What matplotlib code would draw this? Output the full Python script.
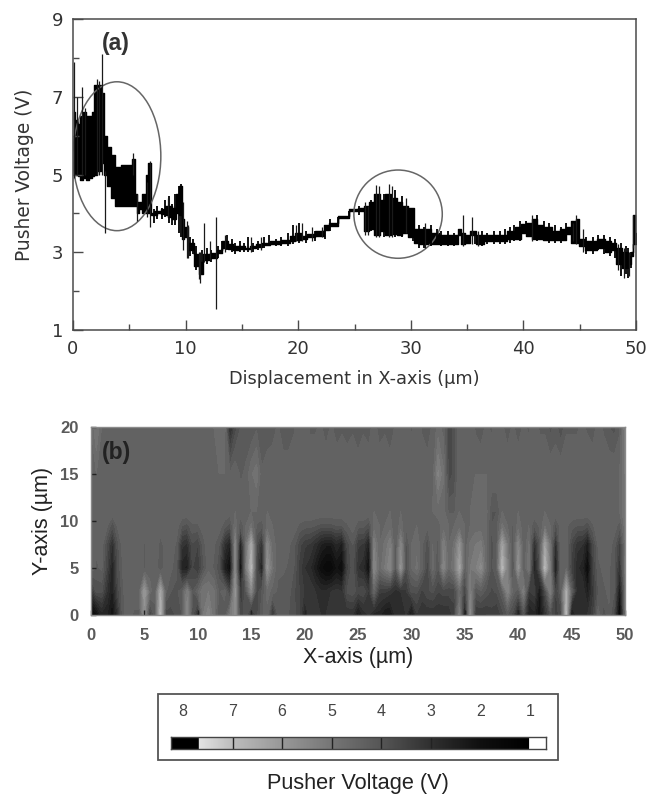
import matplotlib
matplotlib.use('Agg')
import matplotlib.pyplot as plt
import numpy as np
from matplotlib.colors import LinearSegmentedColormap
from matplotlib.patches import Ellipse, Rectangle

W, H = 648, 794

# panel (a): noisy trace, read as a band (low/high) plus single spikes
trace_x = [0.05, 0.3, 0.5, 0.7, 1.0, 1.3, 1.5, 1.8, 2.0, 2.3, 2.6, 2.9, 3.2, 3.5, 4.0, 4.5, 5.0, 5.4, 5.55,
           5.8, 6.0, 6.3, 6.6, 6.8, 7.0, 7.3, 7.7, 8.0, 8.3, 8.6, 9.0, 9.3, 9.6, 9.8, 10.0, 10.5, 11.0, 11.3,
           11.8, 12.5, 13.0, 13.5, 14.0, 14.5, 15.0, 15.5, 16.0, 16.5, 17.0, 18.0, 19.0, 19.5, 20.0, 20.5, 21.0,
           22.0, 22.5, 23.0, 24.0, 25.0, 25.7, 26.0, 26.5, 27.0, 27.5, 28.0, 28.5, 29.0, 29.5, 30.0, 30.5, 31.0,
           31.5, 32.0, 33.0, 34.0, 34.3, 34.7, 35.0, 35.5, 36.0, 37.0, 38.0, 39.0, 39.5, 40.0, 40.5, 41.0, 41.5,
           42.0, 43.0, 43.5, 44.0, 44.5, 44.8, 45.0, 46.0, 47.0, 47.5, 48.0, 48.5, 49.0, 49.5, 49.7, 49.8, 50.0]
trace_low = [5.0, 5.0, 4.95, 4.85, 4.9, 4.85, 4.9, 4.95, 5.0, 5.1, 5.3, 5.0, 4.7, 4.4, 4.2, 4.2, 4.2, 4.2, 4.2,
             4.0, 4.1, 4.0, 4.0, 4.0, 3.95, 3.95, 4.0, 3.98, 3.95, 3.9, 3.85, 4.0, 3.95, 3.35, 3.4, 3.05, 2.65, 2.45,
             2.8, 2.85, 2.98, 3.12, 3.08, 3.05, 3.08, 3.08, 3.12, 3.14, 3.18, 3.22, 3.25, 3.28, 3.32, 3.33, 3.38,
             3.42, 3.58, 3.68, 3.88, 4.05, 4.05, 3.55, 3.6, 3.45, 3.55, 3.45, 3.48, 3.45, 3.5, 3.4, 3.25, 3.2,
             3.22, 3.22, 3.2, 3.2, 3.45, 3.2, 3.25, 3.45, 3.22, 3.28, 3.28, 3.33, 3.35, 3.5, 3.42, 3.35, 3.35,
             3.32, 3.32, 3.32, 3.48, 3.25, 3.25, 3.15, 3.05, 3.1, 3.0, 3.05, 2.7, 2.6, 2.7, 2.9, 3.2, 3.2]
trace_high = [6.6, 6.4, 6.3, 6.5, 6.6, 6.5, 6.5, 6.6, 7.3, 7.3, 7.1, 6.0, 5.7, 5.5, 5.2, 5.25, 5.25, 5.4, 4.5,
              4.3, 4.3, 4.5, 5.0, 5.3, 4.02, 4.05, 4.05, 4.1, 4.2, 4.2, 4.15, 4.5, 4.7, 3.85, 3.65, 3.25, 2.95, 2.75,
              2.95, 2.98, 3.05, 3.3, 3.22, 3.15, 3.15, 3.12, 3.15, 3.2, 3.25, 3.28, 3.32, 3.42, 3.5, 3.42, 3.46,
              3.55, 3.7, 3.75, 3.92, 4.1, 4.15, 4.2, 4.3, 4.5, 4.35, 4.5, 4.4, 4.3, 4.2, 4.15, 3.6, 3.6,
              3.6, 3.5, 3.45, 3.45, 3.6, 3.5, 3.45, 3.55, 3.45, 3.45, 3.45, 3.55, 3.65, 3.72, 3.75, 3.85, 3.7,
              3.65, 3.55, 3.6, 3.65, 3.8, 3.85, 3.35, 3.3, 3.35, 3.3, 3.25, 3.1, 3.0, 2.9, 3.0, 3.95, 3.5]
spike_x = [0.1, 0.35, 0.8, 1.1, 2.1, 2.3, 2.55, 2.85, 5.35, 5.65, 6.6, 6.85, 8.4, 9.75, 10.1, 10.25, 11.15,
           11.3, 11.6, 12.2, 12.7, 13.5, 15.8, 16.7, 19.8, 20.3, 21.2, 22.1, 25.9, 26.2, 26.9, 27.2, 28.1,
           28.3, 29.6, 31.3, 34.6, 35.4, 36.0, 40.8, 44.4, 44.7, 45.3, 48.4, 48.9, 49.4, 49.75]
spike_low = [4.9, 5.0, 5.0, 5.0, 5.0, 5.0, 5.0, 3.5, 5.0, 3.8, 3.9, 3.65, 3.9, 3.05, 2.85, 2.85, 2.3,
             2.2, 2.75, 2.8, 1.55, 3.0, 3.0, 3.05, 3.3, 3.3, 3.3, 3.4, 3.45, 3.45, 3.4, 3.4, 3.4,
             3.4, 3.5, 3.1, 3.15, 3.2, 3.15, 3.3, 3.3, 3.2, 3.0, 2.55, 2.35, 2.4, 3.1]
spike_high = [7.9, 7.0, 7.25, 6.7, 7.45, 7.4, 8.1, 5.1, 5.55, 4.5, 4.8, 5.35, 4.4, 4.3, 3.8, 3.7, 3.0,
              3.0, 3.75, 3.3, 3.9, 3.45, 3.4, 3.4, 3.7, 3.75, 3.65, 3.65, 4.3, 4.2, 4.72, 4.7, 4.75,
              4.7, 4.4, 3.75, 3.95, 3.9, 3.55, 3.95, 3.75, 3.95, 3.6, 3.2, 3.1, 3.0, 3.95]
# smaller noise strokes along the trace
fuzz_x = [7.2, 7.5, 7.9, 8.2, 8.5, 8.8, 9.1, 9.45, 9.55, 10.4, 10.7, 10.9, 11.45, 11.9, 12.3, 12.9, 13.2, 13.7,
          14.1, 14.4, 14.8, 15.2, 15.5, 16.0, 16.4, 17.0, 17.4, 18.0, 18.5, 19.1, 19.5, 20.1, 20.7, 21.5, 22.4,
          22.8, 23.5, 24.5, 25.4, 26.5, 27.6, 28.6, 29.2, 30.2, 30.7, 31.2, 31.8, 32.3, 32.7, 33.3, 33.8, 35.7,
          36.3, 36.8, 37.4, 37.9, 38.4, 38.8, 39.2, 39.7, 40.2, 41.2, 41.8, 42.3, 42.8, 43.3, 43.8, 45.6, 46.2,
          46.6, 47.2, 47.7, 48.1, 48.7, 49.1, 49.25, 49.6]
fuzz_low = [3.75, 3.85, 3.85, 3.9, 3.75, 3.7, 3.7, 3.5, 3.4, 2.9, 2.95, 2.55, 2.5, 2.7, 2.75, 2.85, 3.0, 3.05,
            3.0, 2.95, 3.0, 3.0, 3.0, 3.0, 3.05, 3.1, 3.15, 3.15, 3.15, 3.15, 3.2, 3.25, 3.25, 3.3, 3.35,
            3.55, 3.65, 3.85, 3.95, 3.55, 3.4, 3.4, 3.4, 3.3, 3.1, 3.1, 3.15, 3.2, 3.15, 3.15, 3.15, 3.2,
            3.15, 3.2, 3.2, 3.2, 3.2, 3.25, 3.3, 3.3, 3.5, 3.3, 3.3, 3.25, 3.25, 3.25, 3.4, 2.95, 2.95,
            3.05, 2.95, 2.9, 2.85, 2.4, 2.45, 2.35, 2.6]
fuzz_high = [4.1, 4.2, 4.15, 4.35, 4.45, 4.25, 4.5, 4.7, 4.75, 3.4, 3.35, 3.15, 3.05, 3.1, 3.05, 3.15, 3.3, 3.45,
             3.35, 3.25, 3.3, 3.25, 3.4, 3.25, 3.3, 3.4, 3.45, 3.35, 3.4, 3.5, 3.7, 3.75, 3.55, 3.55, 3.65,
             3.85, 3.9, 4.05, 4.2, 4.35, 4.5, 4.6, 4.45, 4.1, 3.7, 3.65, 3.7, 3.6, 3.55, 3.55, 3.5, 3.55,
             3.55, 3.5, 3.55, 3.55, 3.6, 3.65, 3.7, 3.8, 3.8, 3.95, 3.8, 3.75, 3.7, 3.65, 3.75, 3.4, 3.4,
             3.45, 3.45, 3.4, 3.35, 3.25, 3.15, 3.1, 3.0]
ellipse_x = [3.9, 28.87]
ellipse_y = [5.47, 3.98]
ellipse_w = [7.8, 7.85]
ellipse_h = [3.83, 2.27]

map_x = np.arange(0, 50.5, 0.5)
map_y = [0, 2.5, 5, 7.5, 9.5, 11, 15, 20]
row_0 = [1.5, 1.8, 2.6, 2.5, 2.0, 3.0, 4.2, 4.4, 4.2, 4.2,
         5.6, 3.4, 4.2, 6.8, 3.6, 3.6, 3.8, 4.0, 5.4, 3.8,
         3.0, 5.0, 5.4, 4.8, 4.0, 4.0, 5.0, 5.6, 3.4, 4.0,
         2.8, 3.6, 4.2, 4.4, 3.0, 4.0, 4.0, 4.0, 3.8, 3.6,
         2.6, 3.2, 3.2, 3.0, 3.0, 3.2, 3.0, 3.2, 3.0, 3.0,
         2.2, 2.8, 3.0, 2.6, 2.6, 2.2, 2.2, 2.8, 3.0, 3.0,
         2.0, 3.2, 3.0, 3.0, 3.0, 3.0, 3.0, 3.0, 3.4, 5.2,
         2.2, 5.6, 3.2, 3.2, 3.2, 3.4, 3.2, 3.6, 4.0, 3.6,
         2.4, 3.8, 2.4, 2.6, 2.0, 3.0, 3.8, 3.4, 3.6, 6.8,
         2.0, 3.0, 3.0, 3.0, 3.4, 4.4, 3.8, 4.2, 3.6, 1.4, 4.6]
row_2 = [3.0, 3.8, 3.8, 3.0, 2.4, 3.6, 4.2, 4.5, 4.4, 4.4,
         6.0, 4.6, 4.3, 6.4, 4.3, 4.0, 3.9, 4.2, 5.2, 4.0,
         4.4, 5.0, 5.0, 4.8, 4.2, 4.4, 3.6, 5.8, 3.2, 4.0,
         5.4, 3.6, 4.0, 4.6, 4.4, 4.2, 4.1, 4.1, 3.8, 3.5,
         3.2, 3.2, 3.0, 2.8, 2.8, 3.0, 3.1, 3.0, 3.8, 3.9,
         3.6, 3.7, 3.2, 4.4, 3.3, 3.3, 3.1, 2.9, 3.0, 3.2,
         3.8, 3.8, 3.4, 3.7, 3.8, 3.5, 3.6, 3.6, 3.6, 4.6,
         3.4, 5.2, 4.0, 4.2, 3.9, 3.7, 3.8, 4.2, 5.4, 4.4,
         4.0, 5.2, 3.2, 3.4, 2.2, 3.6, 5.2, 3.4, 4.2, 6.5,
         4.2, 2.8, 3.0, 2.4, 3.2, 4.0, 4.2, 4.3, 4.0, 2.2, 4.6]
row_5 = [4.5, 4.2, 4.3, 3.5, 2.5, 3.8, 4.3, 4.5, 4.5, 4.4,
         4.2, 4.4, 4.5, 4.0, 4.4, 4.3, 4.1, 2.6, 2.4, 3.5,
         3.2, 3.9, 4.4, 4.2, 3.8, 2.4, 1.8, 5.4, 1.8, 5.0,
         6.8, 3.6, 2.5, 5.8, 4.8, 4.3, 4.3, 4.2, 4.0, 3.4,
         3.0, 2.8, 2.3, 1.8, 1.5, 1.5, 2.0, 1.7, 3.4, 3.9,
         3.0, 2.8, 1.8, 5.5, 4.6, 5.0, 5.5, 4.0, 5.8, 3.8,
         4.5, 4.8, 4.3, 3.6, 4.6, 4.0, 5.4, 4.5, 5.0, 6.3,
         4.2, 5.0, 5.2, 5.6, 4.6, 3.9, 4.3, 6.8, 5.2, 3.8,
         5.8, 4.2, 5.0, 2.4, 3.8, 6.8, 5.0, 2.2, 4.5, 4.5,
         3.4, 2.8, 2.6, 1.6, 3.4, 4.2, 4.3, 4.3, 4.0, 3.0, 4.8]
row_7 = [4.5, 4.3, 4.4, 3.7, 2.9, 3.9, 4.4, 4.5, 4.5, 4.4,
         4.2, 4.5, 4.5, 4.1, 4.4, 4.4, 4.2, 3.1, 2.9, 3.7,
         3.5, 4.1, 4.5, 4.3, 4.0, 3.0, 2.5, 5.4, 2.4, 4.8,
         6.4, 3.8, 3.0, 5.4, 4.6, 4.4, 4.4, 4.3, 4.1, 3.6,
         3.3, 3.2, 2.9, 2.5, 2.3, 2.3, 2.7, 2.4, 3.6, 4.0,
         3.3, 3.2, 2.4, 5.2, 4.5, 4.8, 5.2, 4.1, 5.4, 3.9,
         4.5, 4.7, 4.3, 3.8, 4.5, 4.1, 5.2, 4.5, 4.8, 5.8,
         4.3, 4.8, 5.0, 5.1, 4.5, 3.9, 4.2, 6.2, 5.0, 4.0,
         5.4, 4.2, 4.8, 2.9, 3.9, 6.2, 4.8, 2.8, 4.5, 4.4,
         3.6, 3.1, 3.0, 2.3, 3.6, 4.3, 4.4, 4.4, 4.1, 3.4, 4.7]
row_9 = [4.5, 4.5, 4.5, 4.3, 3.8, 4.3, 4.5, 4.5, 4.5, 4.5,
         4.5, 4.3, 4.5, 4.5, 4.3, 4.5, 4.4, 4.0, 3.9, 4.2,
         4.2, 4.4, 4.5, 4.5, 4.4, 4.1, 3.9, 4.7, 4.0, 4.5,
         4.8, 4.2, 4.1, 4.6, 4.5, 4.5, 4.5, 4.4, 4.4, 4.2,
         4.1, 4.1, 4.0, 3.9, 3.9, 3.9, 4.0, 4.0, 4.2, 4.4,
         4.1, 4.1, 3.8, 4.6, 4.5, 4.5, 4.6, 4.3, 4.6, 4.3,
         4.5, 4.5, 4.5, 4.3, 4.5, 4.4, 4.6, 4.5, 4.5, 4.6,
         4.5, 4.5, 4.6, 4.6, 4.5, 4.0, 4.2, 4.8, 4.5, 4.2,
         4.6, 4.4, 4.5, 4.0, 4.3, 4.7, 4.5, 3.9, 4.4, 4.3,
         4.1, 4.0, 4.0, 3.8, 4.2, 4.5, 4.5, 4.5, 4.4, 4.1, 4.9]
row_11 = [4.5, 4.5, 4.5, 4.5, 4.5, 4.5, 4.5, 4.5, 4.5, 4.5,
          4.5, 4.5, 4.5, 4.5, 4.5, 4.5, 4.3, 4.5, 4.5, 4.5,
          4.5, 4.5, 4.5, 4.5, 4.5, 4.5, 4.4, 4.5, 4.4, 4.4,
          4.5, 4.5, 4.5, 4.5, 4.5, 4.5, 4.5, 4.5, 4.5, 4.5,
          4.5, 4.5, 4.5, 4.5, 4.5, 4.5, 4.5, 4.5, 4.5, 4.5,
          4.5, 4.5, 4.5, 4.5, 4.5, 4.5, 4.5, 4.5, 4.5, 4.5,
          4.5, 4.5, 4.5, 4.5, 4.5, 4.6, 4.6, 4.2, 4.2, 4.5,
          4.5, 4.5, 4.6, 4.6, 4.6, 4.0, 4.0, 4.5, 4.5, 4.5,
          4.5, 4.5, 4.5, 4.5, 4.5, 4.5, 4.5, 4.5, 4.5, 4.5,
          4.5, 4.5, 4.5, 4.5, 4.5, 4.5, 4.5, 4.5, 4.5, 4.5, 5.0]
row_15 = [4.5, 4.5, 4.5, 4.5, 4.5, 4.5, 4.5, 4.5, 4.5, 4.5,
          4.5, 4.5, 4.5, 4.5, 4.5, 4.5, 4.3, 4.5, 4.5, 4.5,
          4.5, 4.5, 4.5, 4.5, 4.5, 4.5, 4.3, 4.5, 4.2, 4.3,
          4.7, 4.9, 4.3, 4.5, 4.5, 4.5, 4.5, 4.5, 4.5, 4.5,
          4.5, 4.5, 4.5, 4.5, 4.5, 4.5, 4.5, 4.5, 4.5, 4.5,
          4.5, 4.5, 4.5, 4.5, 4.5, 4.5, 4.5, 4.4, 4.3, 4.5,
          4.5, 4.3, 4.5, 4.4, 4.4, 5.3, 4.8, 3.6, 3.8, 4.5,
          4.5, 4.5, 4.5, 4.5, 4.5, 4.5, 4.5, 4.5, 4.5, 4.5,
          4.5, 4.5, 4.5, 4.5, 4.5, 4.5, 4.5, 4.5, 4.5, 4.5,
          4.5, 4.5, 4.5, 4.5, 4.5, 4.5, 4.5, 4.5, 4.5, 4.5, 5.0]
row_20 = [4.5, 5.0, 4.5, 4.5, 4.5, 4.5, 4.5, 4.5, 4.5, 4.5,
          4.5, 4.5, 4.5, 4.5, 4.5, 4.5, 4.5, 4.5, 4.5, 4.5,
          4.5, 4.5, 4.5, 4.5, 4.6, 4.7, 2.8, 3.6, 4.0, 4.1,
          4.0, 4.2, 4.0, 4.0, 4.1, 4.3, 4.0, 4.0, 4.2, 4.5,
          4.5, 4.2, 4.2, 4.3, 4.1, 4.3, 4.1, 4.2, 4.1, 4.2,
          4.0, 4.2, 4.1, 4.4, 4.1, 4.2, 4.0, 4.3, 4.5, 4.4,
          4.2, 4.4, 4.2, 4.1, 4.3, 4.6, 4.4, 3.6, 3.8, 4.5,
          4.5, 4.5, 4.2, 4.1, 4.3, 4.2, 4.4, 4.3, 4.1, 4.3,
          4.1, 4.3, 4.2, 4.5, 4.2, 4.2, 3.9, 4.1, 3.8, 4.2,
          4.2, 4.2, 4.3, 4.2, 4.1, 4.4, 4.2, 4.0, 3.9, 4.2, 5.2]

# colour scale as shown in the bar
scale_v = [0.68, 1.0, 1.0, 2, 3, 4, 5, 6, 7, 7.7, 7.7, 8.24]
scale_g = ['#ffffff', '#ffffff', '#000000', '#101010', '#303030', '#565656', '#767676', '#989898', '#bcbcbc',
           '#e4e4e4', '#000000', '#000000']
bar_ticks = [8, 7, 6, 5, 4, 3, 2, 1]


def px_axes(fig, left, top, right, bottom):
    return fig.add_axes([left / W, 1 - bottom / H, (right - left) / W, (bottom - top) / H])


pos = [(v - scale_v[0]) / (scale_v[-1] - scale_v[0]) for v in scale_v]
cmap = LinearSegmentedColormap.from_list('pusher', list(zip(pos, scale_g)), N=512)
levels = np.arange(0.75, 8.25, 0.25)

fig = plt.figure(figsize=(W / 100, H / 100), dpi=100)
plt.rcParams['font.family'] = ['DejaVu Sans']
grey = '#4a4a4a'

# (a)
ax = px_axes(fig, 73, 19, 636, 330)
ax.fill_between(trace_x, trace_low, trace_high, color='black', lw=1.0, step='mid')
ax.vlines(fuzz_x, fuzz_low, fuzz_high, color='black', lw=1.3)
ax.vlines(spike_x, spike_low, spike_high, color='#1a1a1a', lw=0.9)
for cx, cy, w, h in zip(ellipse_x, ellipse_y, ellipse_w, ellipse_h):
    ax.add_patch(Ellipse((cx, cy), w, h, fill=False, ec='#666666', lw=1.1))
ax.set_xlim(0, 50)
ax.set_ylim(1, 9)
ax.set_xticks(range(0, 51, 10))
ax.set_xticks(range(5, 50, 10), minor=True)
ax.set_yticks([1, 3, 5, 7, 9])
ax.set_yticks([2, 4, 6, 8], minor=True)
ax.tick_params(which='major', direction='in', length=7, width=1, color=grey, labelsize=13, labelcolor='#333333', pad=7)
ax.tick_params(which='minor', direction='in', length=4.5, width=1, color=grey)
for s in ax.spines.values():
    s.set_color(grey)
    s.set_linewidth(1.1)
ax.set_xlabel('Displacement in X-axis (µm)', fontsize=12.8, color='#333333', labelpad=9)
ax.set_ylabel('Pusher Voltage (V)', fontsize=13.4, color='#333333', labelpad=13)
ax.text(2.55, 8.36, '(a)', fontsize=16.5, color='#333333', fontweight='bold', family='Liberation Sans', va='center')

# (b)
ax2 = px_axes(fig, 91, 427, 625, 615)
z = np.array([row_0, row_2, row_5, row_7, row_9, row_11, row_15, row_20])
ax2.contourf(map_x, map_y, z, levels=levels, cmap=cmap, vmin=scale_v[0], vmax=scale_v[-1])
ax2.set_xlim(0, 50)
ax2.set_ylim(0, 20)
ax2.set_xticks(range(0, 51, 5))
ax2.set_yticks(range(0, 21, 5))
ax2.tick_params(direction='in', length=3.5, width=1, color='#222222', labelsize=12, labelcolor='#5a5a5a', pad=9)
for label in ax2.get_xticklabels() + ax2.get_yticklabels():
    label.set_family('Liberation Sans')
    label.set_fontweight('bold')
for s in ax2.spines.values():
    s.set_color('#8a8a8a')
    s.set_linewidth(1)
ax2.set_xlabel('X-axis (µm)', fontsize=15.5, family='Liberation Sans', color='#222222', labelpad=3)
ax2.set_ylabel('Y-axis (µm)', fontsize=15.5, family='Liberation Sans', color='#222222', labelpad=5)
ax2.text(1, 17.3, '(b)', fontsize=16.5, color='#222222', fontweight='bold', family='Liberation Sans', va='center')

# colour bar in its frame
fig.add_artist(Rectangle((158 / W, 1 - 760 / H), 400 / W, 66 / H, transform=fig.transFigure,
                         fill=False, ec='#555555', lw=1.3))
cax = px_axes(fig, 171, 737, 546, 749)
v = np.arange(0.68, 8.26, 0.02)
cax.imshow(v[np.newaxis, :], aspect='auto', cmap=cmap, vmin=scale_v[0], vmax=scale_v[-1],
           extent=[scale_v[0], scale_v[-1], 0, 1], origin='lower')
cax.vlines(bar_ticks[1:-2], 0, 1, color='#222222', lw=1)
cax.set_xlim(scale_v[-1], scale_v[0])
cax.set_ylim(0, 1)
cax.set_yticks([])
cax.set_xticks(bar_ticks)
cax.xaxis.tick_top()
cax.tick_params(length=0, labelsize=11.5, labelcolor='#444444', pad=13)
for label in cax.get_xticklabels():
    label.set_family('Liberation Sans')
for s in cax.spines.values():
    s.set_color('#444444')
    s.set_linewidth(1)
fig.text(358 / W, 1 - 783 / H, 'Pusher Voltage (V)', fontsize=15.7, family='Liberation Sans', color='#222222',
         ha='center', va='center')

fig.savefig('out.png', dpi=100)
